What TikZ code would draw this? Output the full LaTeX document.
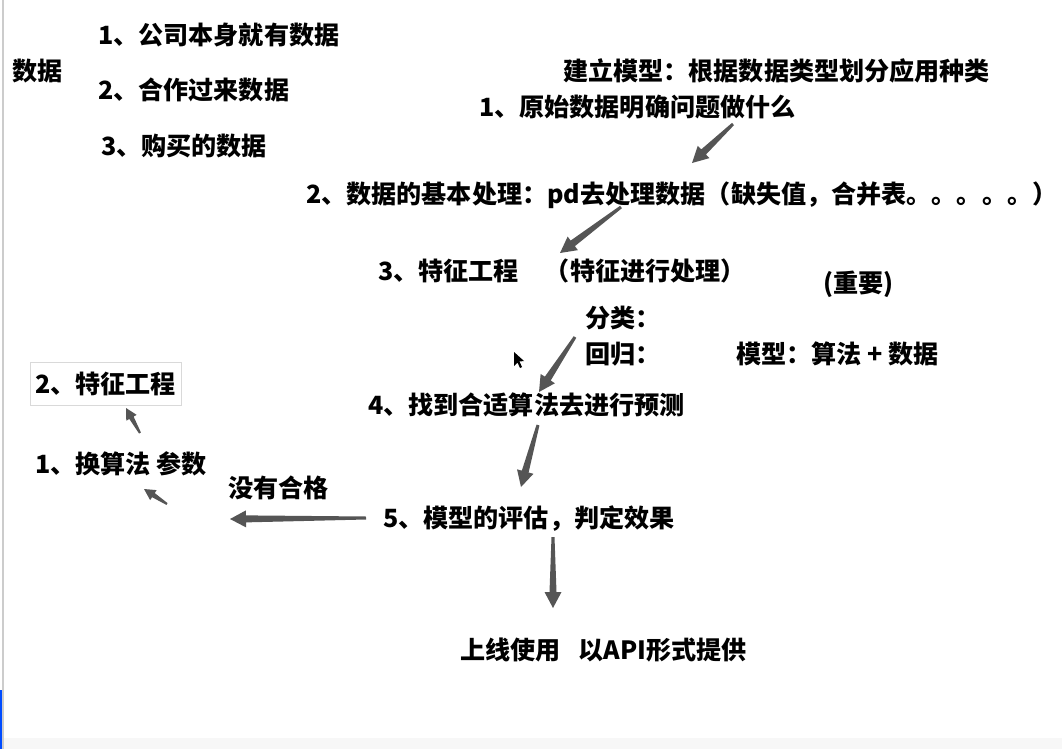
\documentclass[tikz,border=0pt]{standalone}
\usepackage{fontspec}
\setmainfont{Noto Sans CJK SC}
\usepackage{tikz}
\usetikzlibrary{calc}

\definecolor{arrowgray}{HTML}{555555}
\tikzset{
    txt/.style={anchor=base west, inner sep=0pt, font=\bfseries\fontsize{25.1}{30}\selectfont},
    boxed/.style={draw=black!15, inner xsep=5pt, inner ysep=9.5pt},
}
% tapered arrow: [size]{tail}{tip}
\newcommand{\fatarrow}[3][1]{%
    \coordinate (fc) at ($(#3)!#1*16pt!(#2)$);
    \fill[arrowgray] ($(#2)!#1*1.5pt!90:(#3)$) -- ($(fc)!#1*3.5pt!-90:(#2)$) -- ($(fc)!#1*8.5pt!-90:(#2)$) -- (#3)
        -- ($(fc)!#1*8.5pt!90:(#2)$) -- ($(fc)!#1*3.5pt!90:(#2)$) -- ($(#2)!#1*1.5pt!-90:(#3)$) -- cycle;
}

\begin{document}
\begin{tikzpicture}[x=1pt, y=-1pt]
            \fill[white] (0,0) rectangle (1062,749);
            \useasboundingbox (0,0) rectangle (1062,749);
            \fill[black!3] (0,738) rectangle (1062,749);
            \draw[black!20, line width=2pt] (3,0) -- (3,749);
            \draw[blue!70!cyan, line width=2pt] (1,690) -- (1,749);

            % sources of data
            \node[txt] (src) at (12,81) {数据};
            \node[txt] (src1) at (98,45) {1、公司本身就有数据};
            \node[txt] (src2) at (98,100) {2、合作过来数据};
            \node[txt] (src3) at (101,155) {3、购买的数据};

            % main flow
            \node[txt] (title) at (563,81) {建立模型：根据数据类型划分应用种类};
            \node[txt] (step1) at (479,117) {1、原始数据明确问题做什么};
            \node[txt] (step2) at (306,203) {2、数据的基本处理：pd去处理数据（缺失值，合并表。。。。。）};
            \node[txt] (step3) at (378,280) {3、特征工程\hspace*{26pt}（特征进行处理）};
            \node[txt] (imp) at (823,292.5) {(重要)};
            \node[txt] (cls) at (585,327.5) {分类：};
            \node[txt] (reg) at (585,363.5) {回归：};
            \node[txt] (algo) at (736,363.5) {模型：算法 + 数据};
            \node[txt] (step4) at (368,414.5) {4、找到合适算法去进行预测};
            \node[txt] (step5) at (383,527.5) {5、模型的评估，判定效果};
            \node[txt] (online) at (460,659.5) {上线使用\hspace*{18pt}以API形式提供};

            % loop back
            \node[txt] (fail) at (228,497.5) {没有合格};
            \node[txt] (alt1) at (35,473) {1、换算法 参数};
            \node[txt, boxed] (alt2) at (30,393.5) {2、特征工程};

            \coordinate (a1) at (733,124); \coordinate (b1) at (692,163);
            \coordinate (a2) at (621,207); \coordinate (b2) at (560,253);
            \coordinate (a3) at (575,337); \coordinate (b3) at (539,392);
            \coordinate (a4) at (538,425); \coordinate (b4) at (521,487);
            \coordinate (a5) at (366,518); \coordinate (b5) at (230,519);
            \coordinate (a6) at (553,537); \coordinate (b6) at (553,608);
            \coordinate (a7) at (167,504); \coordinate (b7) at (144,489);
            \coordinate (a8) at (140,433); \coordinate (b8) at (126,408);

            \fatarrow{a1}{b1}
            \fatarrow{a2}{b2}
            \fatarrow{a3}{b3}
            \fatarrow{a4}{b4}
            \fatarrow{a5}{b5}
            \fatarrow{a6}{b6}
            \fatarrow[0.7]{a7}{b7}
            \fatarrow[0.7]{a8}{b8}

            % mouse pointer
            \fill[black] (514,352) -- (514,366) -- (517.5,362.5) -- (520,368) -- (522,367) -- (519.5,361.5) -- (524,361) -- cycle;
        \end{tikzpicture}
\end{document}
